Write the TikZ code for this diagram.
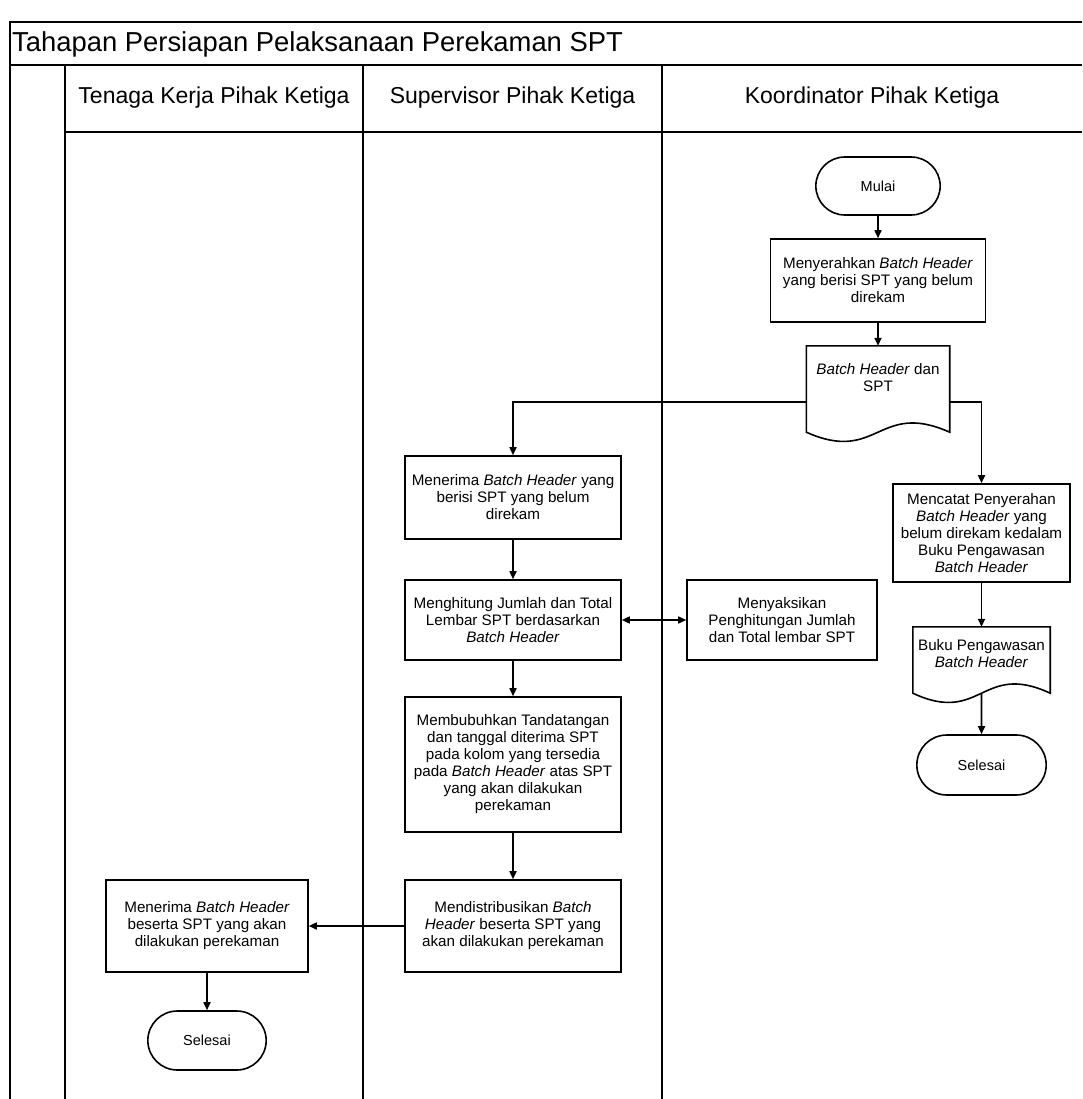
\documentclass[tikz,border=0pt]{standalone}
\usepackage{fontspec}
\setmainfont{Liberation Sans}
\usepackage{tikz}
\usetikzlibrary{arrows.meta,calc,positioning,shapes.misc}

% document symbol drawn round a named node: #1 node, #2 drop of the sides
\newcommand{\dokumen}[2]{%
\draw[garis] (#1.north west) -- (#1.north east) -- ($(#1.south east)+(0,#2)$)
  .. controls ($(#1.south)+(0,#2-32)$) and ($(#1.south)+(0,#2+32)$) .. ($(#1.south west)+(0,#2)$) -- cycle;}

\tikzset{
  garis/.style={line width=1.6pt},
  kotak/.style={draw,garis,align=center,inner sep=2pt,font=\fontsize{15.2}{17}\selectfont},
  dok/.style={align=center,inner sep=2pt,font=\fontsize{15.2}{17}\selectfont},
  ujung/.style={draw,garis,rounded rectangle,font=\fontsize{14.5}{16}\selectfont},
  panah/.style={garis,-{Triangle[length=8pt,width=7pt]}},
  bingkai/.style={line width=1.8pt}
}

\begin{document}
\begin{tikzpicture}[x=1pt,y=-1pt]
\useasboundingbox (0,0) rectangle (1082,1099);
% pool and lanes
\draw[bingkai] (10,1099) -- (10,22) -- (1082,22);
\draw[bingkai] (10,65) -- (1082,65);
\draw[bingkai] (65,132) -- (1082,132);
\foreach \x in {65,363,662}
  \draw[bingkai] (\x,65) -- (\x,1099);
\node[anchor=west,inner sep=0pt,font=\fontsize{27.4}{30}\selectfont] (judul) at (12,44) {Tahapan Persiapan Pelaksanaan Perekaman SPT};
\node[font=\fontsize{23}{25}\selectfont] (lajurA) at (214,98) {Tenaga Kerja Pihak Ketiga};
\node[font=\fontsize{23}{25}\selectfont] (lajurB) at (512.5,98) {Supervisor Pihak Ketiga};
\node[font=\fontsize{23}{25}\selectfont] (lajurC) at (872,98) {Koordinator Pihak Ketiga};

% koordinator
\node[ujung,minimum width=131,minimum height=58] (mulai) at (878,186) {Mulai};
\node[kotak,minimum width=215,minimum height=83] (serah) at (878,280.5)
  {Menyerahkan \textit{Batch Header}\\yang berisi SPT yang belum\\direkam};
\node[dok,minimum width=143,minimum height=64] (dokA) at (878,378)
  {\textit{Batch Header} dan\\SPT};
\dokumen{dokA}{22}
\node[kotak,minimum width=177,minimum height=98] (catat) at (981.5,533)
  {Mencatat Penyerahan\\\textit{Batch Header} yang\\belum direkam kedalam\\Buku Pengawasan\\\textit{Batch Header}};
\node[dok,minimum width=137,minimum height=54] (buku) at (981.5,654)
  {Buku Pengawasan\\\textit{Batch Header}};
\dokumen{buku}{12}
\node[ujung,minimum width=136,minimum height=60] (selesaiB) at (981.5,765) {Selesai};

% supervisor
\node[kotak,minimum width=216,minimum height=83] (terima) at (513,497.5)
  {Menerima \textit{Batch Header} yang\\berisi SPT yang belum\\direkam};
\node[kotak,minimum width=216,minimum height=80] (hitung) at (513,620)
  {Menghitung Jumlah dan Total\\Lembar SPT berdasarkan\\\textit{Batch Header}};
\node[kotak,minimum width=190,minimum height=80] (saksi) at (782,620)
  {Menyaksikan\\Penghitungan Jumlah\\dan Total lembar SPT};
\node[kotak,minimum width=216,minimum height=135] (bubuh) at (513,764.5)
  {Membubuhkan Tandatangan\\dan tanggal diterima SPT\\pada kolom yang tersedia\\pada \textit{Batch Header} atas SPT\\yang akan dilakukan\\perekaman};
\node[kotak,minimum width=216,minimum height=92] (bagi) at (513,926)
  {Mendistribusikan \textit{Batch}\\\textit{Header} beserta SPT yang\\akan dilakukan perekaman};

% tenaga kerja
\node[kotak,minimum width=202,minimum height=92] (terimaB) at (207,926)
  {Menerima \textit{Batch Header}\\beserta SPT yang akan\\dilakukan perekaman};
\node[ujung,minimum width=125,minimum height=59] (selesaiA) at (207,1040.5) {Selesai};

% alur
\draw[panah] (mulai) -- (serah);
\draw[panah] (serah) -- (dokA);
\draw[panah] ($(dokA.south west)+(0,-8)$) -| (terima);
\draw[panah] ($(dokA.south east)+(0,-8)$) -| (catat);
\draw[panah] (catat) -- (buku);
\draw[panah] ($(buku.south)+(0,12)$) -- (selesaiB);
\draw[panah] (terima) -- (hitung);
\draw[garis,{Triangle[length=8pt,width=7pt]}-{Triangle[length=8pt,width=7pt]}] (hitung) -- (saksi);
\draw[panah] (hitung) -- (bubuh);
\draw[panah] (bubuh) -- (bagi);
\draw[panah] (bagi) -- (terimaB);
\draw[panah] (terimaB) -- (selesaiA);
\end{tikzpicture}
\end{document}
